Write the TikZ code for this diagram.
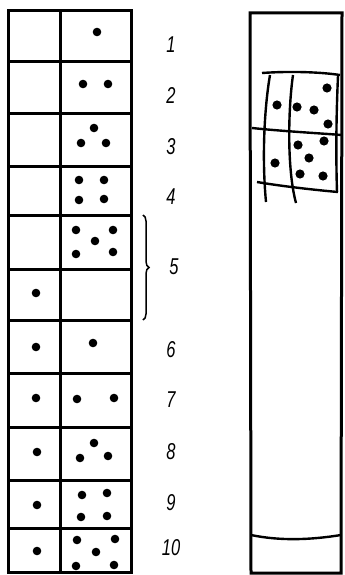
\documentclass[tikz,border=0pt]{standalone}
\usepackage{fontspec}
\setsansfont{Liberation Sans}
\usetikzlibrary{decorations.pathreplacing}
\begin{document}
\begin{tikzpicture}[x=1bp,y=-1bp,
  frame/.style={line width=3bp,line join=miter},
  grid/.style={line width=2.4bp},
  pt/.style={fill=black},
  lab/.style={font=\sffamily\itshape\fontsize{23}{23}\selectfont,xscale=0.72,inner sep=0pt}]
\useasboundingbox (0,0) rectangle (344,575);
% left table
\draw[frame] (8,11) rectangle (131,572);
\draw[frame] (60,11) -- (60,572);
\foreach \y in {62,114,166,215,269,320,373,427,480,528}
  \draw[frame] (8,\y) -- (131,\y);
% dots
\foreach \p in {(97,32),(83,84),(108,84),(94,128),(81,143),(106,143),
  (79,180),(104,180),(79,200),(104,199),
  (76,230),(113,230),(95,241),(76,254),(113,252),
  (36,293),(36,347),(93,343),(36,398),(77,399),(114,398),
  (37,452),(94,443),(80,458),(108,456),
  (37,505),(82,495),(107,493),(81,517),(107,516),
  (37,551),(77,540),(115,539),(96,552),(76,566),(114,565)}
  \fill[pt] \p circle (4.3);
% labels
\node[lab] (l1) at (171,45) {1};
\node[lab] (l2) at (171,96) {2};
\node[lab] (l3) at (171,147) {3};
\node[lab] (l4) at (171,197) {4};
\node[lab] (l5) at (174,267) {5};
\node[lab] (l6) at (171,350) {6};
\node[lab] (l7) at (171,400) {7};
\node[lab] (l8) at (171,452) {8};
\node[lab] (l9) at (171,503) {9};
\node[lab] (l10) at (171,548) {10};
\draw[line width=1.5bp,decorate,decoration={brace,amplitude=6bp}] (143,215) -- (143,320);
% right tube
\draw[frame] (250,13) -- (342,13) -- (341,573) -- (251,573) -- cycle;
\draw[grid] (251,535) .. controls (280,541) and (310,540) .. (341,535);
\draw[grid] (262,73) .. controls (290,71) and (320,72) .. (340,75);
\draw[grid] (252,128) .. controls (280,131) and (315,133) .. (342,135);
\draw[grid] (257,182) .. controls (280,186) and (315,190) .. (338,192);
\draw[grid] (270,75) .. controls (264,110) and (262,160) .. (266,202);
\draw[grid] (293,75) .. controls (288,110) and (287,170) .. (296,203);
\draw[grid] (338,76) .. controls (336,120) and (336,160) .. (337,192);
\foreach \p in {(327,88),(277,105),(297,107),(314,110),(328,124),(324,141),
  (298,145),(309,158),(275,163),(300,174),(323,176)}
  \fill[pt] \p circle (4.6);
\end{tikzpicture}
\end{document}
